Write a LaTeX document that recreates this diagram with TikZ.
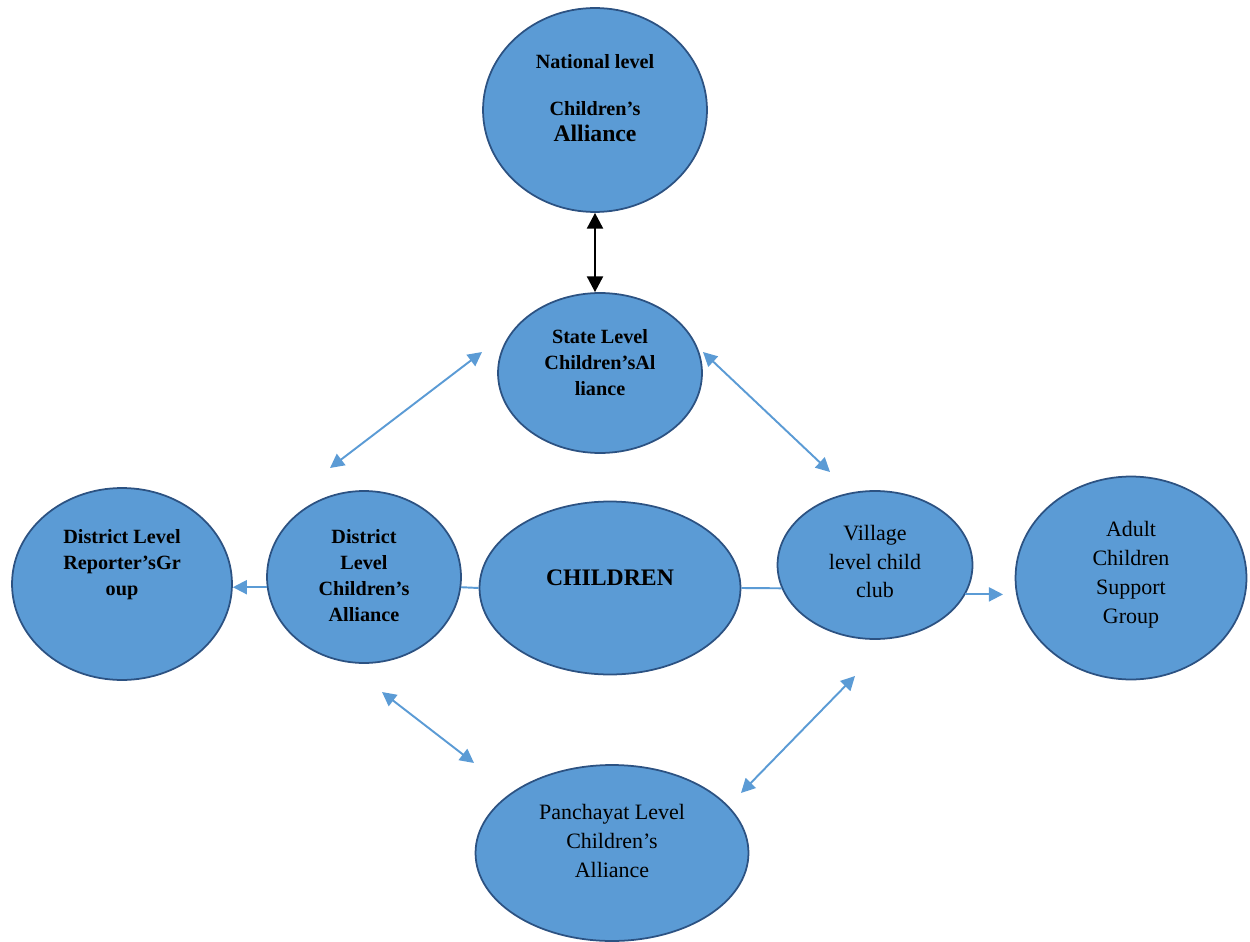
\documentclass[tikz,border=0pt]{standalone}
\usepackage{fontspec}
\setmainfont{Liberation Serif}
\usetikzlibrary{shapes.geometric,arrows.meta}
\definecolor{cfill}{RGB}{91,155,213}
\definecolor{cedge}{RGB}{44,82,130}
\begin{document}
\begin{tikzpicture}[x=0.02cm,y=-0.02cm,
	ell/.style={ellipse,draw=cedge,fill=cfill,line width=1pt,inner sep=0pt},
	bold/.style={align=center,font=\bfseries\fontsize{11.5}{14.8}\selectfont},
	plain/.style={align=center,font=\fontsize{12.5}{16.5}\selectfont},
	lnk/.style={cfill,line width=1.1pt,>={Triangle[width=8pt,length=8pt]}}]
	\useasboundingbox (0,0) rectangle (1250,942);
	% the circles
	\node [ell,minimum width=4.48cm,minimum height=4.08cm] (nat) at (595,110) {};
	\node [ell,minimum width=4.08cm,minimum height=3.2cm] (sta) at (600,373) {};
	\node [ell,minimum width=4.4cm,minimum height=3.84cm] (rep) at (122,584) {};
	\node [ell,minimum width=3.88cm,minimum height=3.44cm] (dal) at (364,577) {};
	\node [ell,minimum width=5.22cm,minimum height=3.46cm] (chi) at (610,588) {};
	\node [ell,minimum width=3.9cm,minimum height=2.96cm] (vil) at (875,565) {};
	\node [ell,minimum width=4.62cm,minimum height=4.06cm] (adu) at (1131,578) {};
	\node [ell,minimum width=5.46cm,minimum height=3.52cm] (pan) at (612,853) {};
	% the texts
	\node [bold] (natT) at ([yshift=7pt]nat.center) {National level\\[12pt]Children’s\\{\fontsize{13.5}{15}\selectfont Alliance}};
	\node [bold] (staT) at ([yshift=6pt]sta.center) {State Level\\Children’sAl\\liance};
	\node [bold] (repT) at ([yshift=11pt]rep.center) {District Level\\Reporter’sGr\\oup};
	\node [bold] (dalT) at ([yshift=1pt]dal.center) {District\\Level\\Children’s\\Alliance};
	\node [bold,font=\bfseries\fontsize{13.5}{16}\selectfont] (chiT) at ([yshift=6pt]chi.center) {CHILDREN};
	\node [plain] (vilT) at ([yshift=2pt]vil.center) {Village\\level child\\club};
	\node [plain] (aduT) at ([yshift=2pt]adu.center) {Adult\\Children\\Support\\Group};
	\node [plain] (panT) at ([yshift=7pt]pan.center) {Panchayat Level\\Children’s\\Alliance};
	% free ends of the links
	\coordinate (a1) at (482,352); \coordinate (a2) at (330,468);
	\coordinate (b1) at (703,352); \coordinate (b2) at (830,472);
	\coordinate (c1) at (382,692); \coordinate (c2) at (474,763);
	\coordinate (d1) at (855,676); \coordinate (d2) at (741,793);
	\coordinate (e1) at (1003,594);
	% links
	\draw [line width=1.6pt,>={Triangle[width=9pt,length=9pt]},<->] (nat.south) -- (nat.south |- sta.north);
	\draw [lnk,<->] (a1) -- (a2);
	\draw [lnk,<->] (b1) -- (b2);
	\draw [lnk,<->] (c1) -- (c2);
	\draw [lnk,<->] (d1) -- (d2);
	\draw [lnk,->] (dal.186) -- (dal.186 -| rep.east);
	\draw [lnk] (dal.354) -- (chi.west);
	\draw [lnk] (chi.east) -- (vil.194);
	\draw [lnk,->] (vil.342) -- (vil.342 -| e1);
\end{tikzpicture}
\end{document}
